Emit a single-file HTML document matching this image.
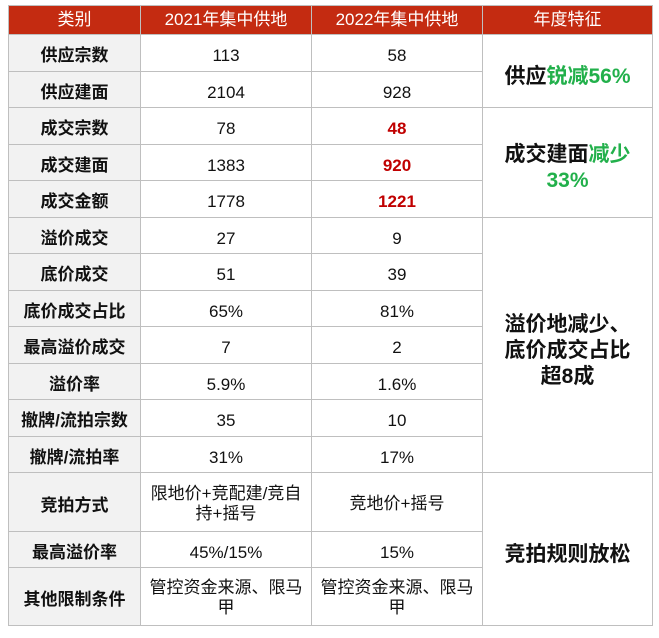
<!DOCTYPE html>
<html><head><meta charset="utf-8"><style>
body{margin:0;width:659px;height:638px;background:#fff;font-family:"Liberation Sans","Noto Sans CJK SC",sans-serif;overflow:hidden}
table{position:absolute;left:8px;top:5px;border-collapse:collapse;table-layout:fixed;width:644px}
td,th{border:1px solid #bfbfbf;text-align:center;vertical-align:middle;padding:7px 0 0 0;font-size:17px;color:#111;line-height:20px}
th{background:#c42b11;color:#fff;font-weight:normal;height:28px;font-size:17px;padding:0}
td.c1{background:#f2f2f2;font-weight:bold}
td.w{padding-top:3px;line-height:20px}
.red{color:#c00000;font-weight:bold}
.big{font-weight:bold;font-size:21px;line-height:26px;padding-top:12px}
.g{color:#22b04b}
</style></head><body>
<table>
<colgroup><col style="width:132px"><col style="width:171px"><col style="width:171px"><col style="width:170px"></colgroup>
<tr><th>类别</th><th>2021年集中供地</th><th>2022年集中供地</th><th>年度特征</th></tr>
<tr style="height:36.5px"><td class="c1">供应宗数</td><td>113</td><td>58</td><td rowspan="2" class="big">供应<span class="g">锐减56%</span></td></tr>
<tr style="height:36.5px"><td class="c1">供应建面</td><td>2104</td><td>928</td></tr>
<tr style="height:36.5px"><td class="c1">成交宗数</td><td>78</td><td class="red">48</td><td rowspan="3" class="big">成交建面<span class="g">减少<br>33%</span></td></tr>
<tr style="height:36.5px"><td class="c1">成交建面</td><td>1383</td><td class="red">920</td></tr>
<tr style="height:36.5px"><td class="c1">成交金额</td><td>1778</td><td class="red">1221</td></tr>
<tr style="height:36.5px"><td class="c1">溢价成交</td><td>27</td><td>9</td><td rowspan="7" class="big">溢价地减少、<br>底价成交占比<br>超8成</td></tr>
<tr style="height:36.5px"><td class="c1">底价成交</td><td>51</td><td>39</td></tr>
<tr style="height:36.5px"><td class="c1">底价成交占比</td><td>65%</td><td>81%</td></tr>
<tr style="height:36.5px"><td class="c1">最高溢价成交</td><td>7</td><td>2</td></tr>
<tr style="height:36.5px"><td class="c1">溢价率</td><td>5.9%</td><td>1.6%</td></tr>
<tr style="height:36.5px"><td class="c1">撤牌/流拍宗数</td><td>35</td><td>10</td></tr>
<tr style="height:36.5px"><td class="c1">撤牌/流拍率</td><td>31%</td><td>17%</td></tr>
<tr style="height:59px"><td class="c1">竞拍方式</td><td class="w">限地价+竞配建/竞自<br>持+摇号</td><td class="w">竞地价+摇号</td><td rowspan="3" class="big">竞拍规则放松</td></tr>
<tr style="height:36px"><td class="c1">最高溢价率</td><td>45%/15%</td><td>15%</td></tr>
<tr style="height:58px"><td class="c1">其他限制条件</td><td class="w">管控资金来源、限马<br>甲</td><td class="w">管控资金来源、限马<br>甲</td></tr>
</table>
</body></html>
